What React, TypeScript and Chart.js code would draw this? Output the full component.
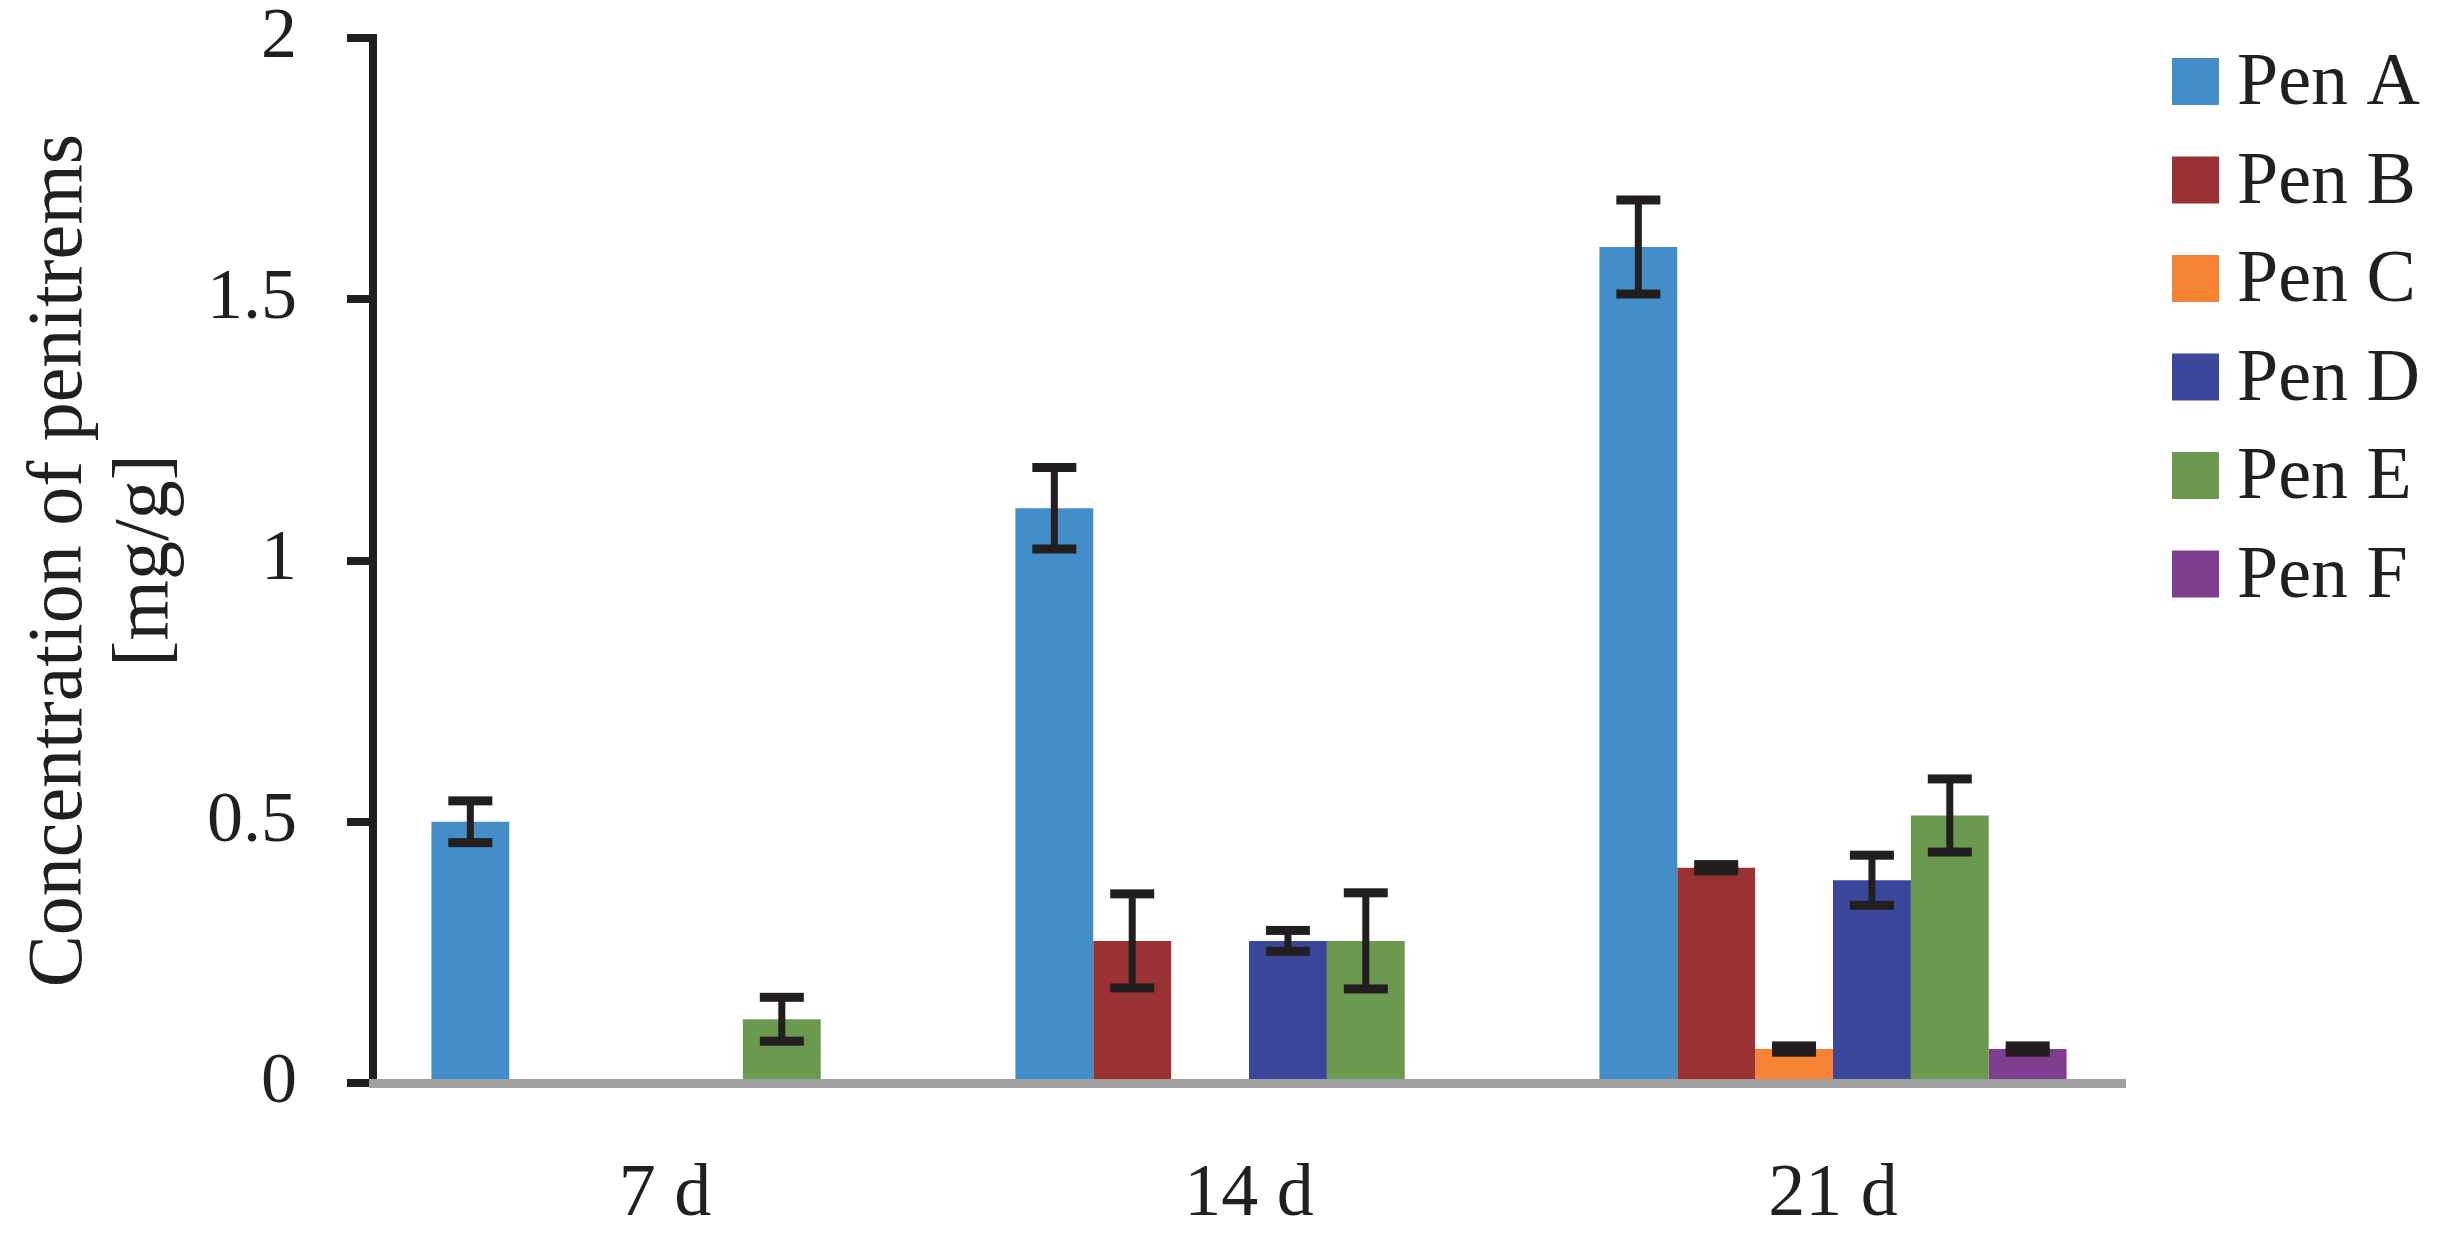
import React, { useEffect, useRef } from "react";
import { Chart, registerables } from "chart.js";

Chart.register(...registerables);

const categories = ["7 d", "14 d", "21 d"];
const seriesNames = ["Pen A", "Pen B", "Pen C", "Pen D", "Pen E", "Pen F"];
const penA = [0.5, 1.1, 1.6];
const penB = [null, 0.272, 0.412];
const penC = [null, null, 0.065];
const penD = [null, 0.272, 0.388];
const penE = [0.122, 0.272, 0.512];
const penF = [null, null, 0.065];
const errA = [0.04, 0.078, 0.09];
const errB = [0, 0.09, 0.006];
const errC = [0, 0, 0.006];
const errD = [0, 0.02, 0.048];
const errE = [0.042, 0.092, 0.07];
const errF = [0, 0, 0.006];
const colors = ["#438ec9", "#9a3233", "#f68233", "#3a479a", "#6b9950", "#7e3d8f"];
const yTicks = [0, 0.5, 1, 1.5, 2];
const yTitle = ["Concentration of penitrems", "[mg/g]"];

const values = [penA, penB, penC, penD, penE, penF];
const errors = [errA, errB, errC, errD, errE, errF];

const FONT = "'Liberation Serif', 'Times New Roman', serif";
const INK = "#231f20";

const errorBarPlugin = {
  id: "errorBars",
  afterDatasetsDraw(chart: any) {
    const ctx = chart.ctx;
    const yScale = chart.scales.y;
    ctx.save();
    ctx.fillStyle = INK;
    chart.data.datasets.forEach((ds: any, i: number) => {
      const meta = chart.getDatasetMeta(i);
      ds.data.forEach((v: number | null, j: number) => {
        if (v === null || v === undefined) return;
        const e = ds.errors[j];
        if (!e) return;
        const bar = meta.data[j];
        const x = bar.x;
        const yT = yScale.getPixelForValue(v + e);
        const yB = yScale.getPixelForValue(v - e);
        ctx.fillRect(x - 3.5, yT, 7, yB - yT);
        ctx.fillRect(x - 22, yT - 4.5, 44, 9);
        ctx.fillRect(x - 22, yB - 4.5, 44, 9);
      });
    });
    ctx.restore();
  },
};

const legendPlugin = {
  id: "customLegend",
  afterDraw(chart: any) {
    const ctx = chart.ctx;
    const area = chart.chartArea;
    ctx.save();
    chart.data.datasets.forEach((ds: any, i: number) => {
      const bx = area.right + 47;
      const by = area.top + 20 + i * 98.5;
      ctx.fillStyle = ds.backgroundColor;
      ctx.fillRect(bx, by, 47, 47);
      ctx.fillStyle = INK;
      ctx.font = `74px ${FONT}`;
      ctx.textBaseline = "alphabetic";
      ctx.textAlign = "left";
      ctx.fillText(ds.label, bx + 65, by + 46);
    });
    ctx.restore();
  },
};

export default function App() {
  const ref = useRef<HTMLCanvasElement>(null);
  useEffect(() => {
    if (!ref.current) return;
    const chart = new Chart(ref.current, {
      type: "bar",
      data: {
        labels: categories,
        datasets: seriesNames.map((name, i) => ({
          label: name,
          data: values[i],
          errors: errors[i],
          backgroundColor: colors[i],
          borderWidth: 0,
          categoryPercentage: 0.8,
          barPercentage: 1.0,
        })) as any,
      },
      options: {
        responsive: false,
        animation: false,
        devicePixelRatio: 1,
        layout: { padding: { top: 38, right: 327, bottom: 0, left: 0 } },
        plugins: {
          legend: { display: false },
          tooltip: { enabled: false },
        },
        scales: {
          x: {
            grid: { display: false },
            border: { display: true, color: "#a0a0a0", width: 9, z: 1 },
            ticks: {
              color: INK,
              padding: 60,
              font: { family: FONT, size: 74, lineHeight: 1.2 },
            },
            afterFit: (s: any) => {
              s.height = 162;
              s.paddingLeft = 0;
              s.paddingRight = 0;
            },
          },
          y: {
            min: 0,
            max: 2,
            afterBuildTicks: (s: any) => {
              s.ticks = yTicks.map((v) => ({ value: v }));
            },
            grid: {
              display: true,
              drawOnChartArea: false,
              drawTicks: true,
              tickLength: 26,
              lineWidth: 8,
              color: INK,
            },
            border: { display: true, color: INK, width: 8 },
            ticks: {
              color: INK,
              padding: 50,
              font: { family: FONT, size: 72, lineHeight: 1.0 },
              callback: (v: any) => String(v),
            },
            title: {
              display: true,
              text: yTitle,
              color: INK,
              font: { family: FONT, size: 78, lineHeight: 1.1 },
              padding: { top: 18, bottom: 0 },
            },
            afterFit: (s: any) => {
              s.width = 373;
              s.paddingTop = 0;
              s.paddingBottom = 0;
            },
          },
        },
      },
      plugins: [errorBarPlugin, legendPlugin],
    });
    return () => chart.destroy();
  }, []);
  return (
    <div style={{ position: "fixed", left: 0, top: 0, width: 2452, height: 1245, background: "#fff" }}>
      <canvas ref={ref} width={2452} height={1245} style={{ display: "block" }} />
    </div>
  );
}
